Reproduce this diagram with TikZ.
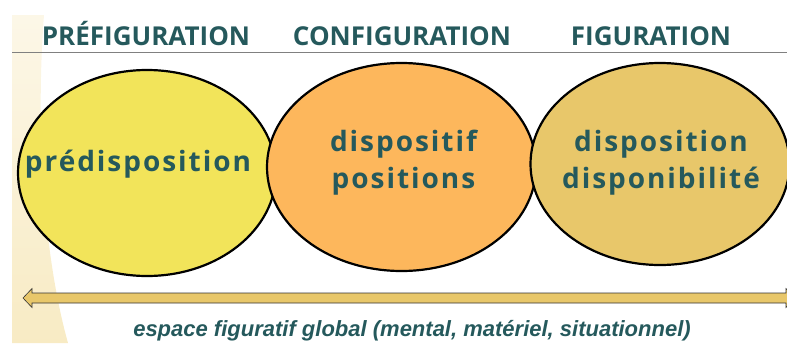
\documentclass[tikz,border=0pt]{standalone}
\usepackage{fontspec}
\setsansfont{Open Sans}
\newfontfamily\bullefont[LetterSpace=7]{Open Sans}
\newfontfamily\basfont{Liberation Sans}
\usetikzlibrary{shapes.geometric}

\definecolor{figteal}{RGB}{37,89,92}
\definecolor{figjaune}{RGB}{242,228,90}
\definecolor{figorange}{RGB}{253,183,92}
\definecolor{figsable}{RGB}{232,199,106}
\definecolor{figcreme}{RGB}{248,235,196}

\begin{document}
\begin{tikzpicture} [x=1pt,y=-1pt,
			titre/.style={font=\sffamily\bfseries\fontsize{26}{30}\selectfont,text=figteal,anchor=base},
			bulle/.style={ellipse,draw=black,line width=2.2pt,inner sep=0pt},
			mot/.style={font=\bullefont\bfseries\fontsize{28}{37}\selectfont,text=figteal,align=center}]
			\useasboundingbox (0,0) rectangle (787,343);
			\clip (0,0) rectangle (787,343);
			
			\shade[top color=white!60!figcreme,bottom color=figcreme] (12,15) -- (44,15) .. controls (36,120) and (42,250) .. (68,343) -- (12,343) -- cycle;
			
			\foreach \nom/\x/\txt in {pre/146/PRÉFIGURATION,con/402/CONFIGURATION,fig/651/FIGURATION}
			\node[titre] (t\nom) at (\x,45) {\txt};
			\draw[gray,line width=0.8pt] (12,52) -- (787,52);
			
			\node[bulle,fill=figjaune,minimum width=258pt,minimum height=206pt] (pre) at (147,173) {};
			\node[bulle,fill=figorange,minimum width=269pt,minimum height=208pt] (con) at (401.5,167) {};
			\node[bulle,fill=figsable,minimum width=259pt,minimum height=202pt] (fig) at (660,164) {};
			
			\node[mot] (mpre) at ([shift={(-9,-9)}]pre.center) {prédisposition};
			\node[mot] (mcon) at ([shift={(2,-4)}]con.center) {dispositif\\positions};
			\node[mot] (mfig) at ([shift={(1,-1)}]fig.center) {disposition\\disponibilité};
			
			\coordinate (fl) at (23,298);
			\coordinate (fr) at (795,298);
			\draw[fill=figsable,draw=black!80,line width=0.6pt] (fl) -- ([shift={(9,-9.5)}]fl) -- ([shift={(9,-5)}]fl) -- ([shift={(-9,-5)}]fr) -- ([shift={(-9,-9.5)}]fr) -- (fr) -- ([shift={(-9,9.5)}]fr) -- ([shift={(-9,5)}]fr) -- ([shift={(9,5)}]fl) -- ([shift={(9,9.5)}]fl) -- cycle;
			
			\node[font=\basfont\bfseries\itshape\fontsize{22}{25}\selectfont,text=figteal,anchor=base] (legende) at (412,336) {espace figuratif global (mental, matériel, situationnel)};
			\end{tikzpicture}
\end{document}
